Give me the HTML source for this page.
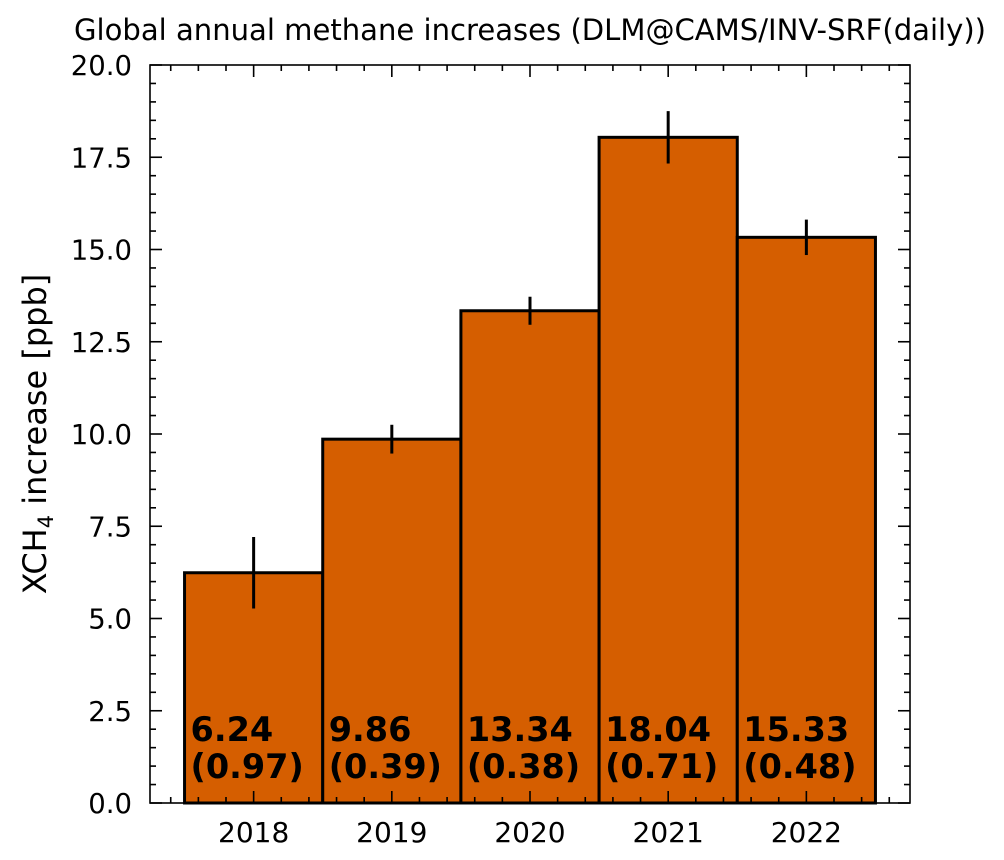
<!DOCTYPE html>
<html><head><meta charset="utf-8"><style>
body{margin:0;background:#fff;}
svg{display:block;font-family:"DejaVu Sans","Liberation Sans",sans-serif;}
</style></head><body>
<svg id="chart" width="1004" height="860">
<text x="530" y="40" text-anchor="middle" font-size="29" textLength="912" lengthAdjust="spacingAndGlyphs">Global annual methane increases (DLM@CAMS/INV-SRF(daily))</text>
<text transform="translate(46,434) rotate(-90)" text-anchor="middle" font-size="32">XCH<tspan font-size="21" dy="7">4</tspan><tspan dy="-7"> increase [ppb]</tspan></text>
<g id="plot"></g>
</svg>
<script>
const years = [2018, 2019, 2020, 2021, 2022];
const values = [6.24, 9.86, 13.34, 18.04, 15.33];
const errors = [0.97, 0.39, 0.38, 0.71, 0.48];
const yTicks = [0, 2.5, 5, 7.5, 10, 12.5, 15, 17.5, 20];

const L=150,R=910,T=65,B=803;
const xmin=2017.25,xmax=2022.75,ymin=0,ymax=20;
const xs=v=>L+(v-xmin)/(xmax-xmin)*(R-L);
const ys=v=>B-(v-ymin)/(ymax-ymin)*(B-T);
const g=document.getElementById('plot');
const NS='http://www.w3.org/2000/svg';
function mk(t,a){const e=document.createElementNS(NS,t);for(const k in a)e.setAttribute(k,a[k]);g.appendChild(e);return e;}

years.forEach((yr,i)=>{
  const x0=xs(yr-0.5),x1=xs(yr+0.5),y=ys(values[i]);
  const r=mk('rect',{x:x0,y:y,width:x1-x0,height:B-y,fill:'#d55e00',stroke:'#000','stroke-width':3});
  
  
  const e=mk('line',{x1:xs(yr),x2:xs(yr),y1:ys(values[i]+errors[i]),y2:ys(values[i]-errors[i]),stroke:'#000','stroke-width':3});
  
  
  const t=mk('text',{x:x0+7,y:741,'font-size':33.5,'font-weight':'bold'});
  
  
  t.innerHTML='<tspan x="'+(x0+6)+'">'+values[i].toFixed(2)+'</tspan><tspan x="'+(x0+6)+'" dy="37">('+errors[i].toFixed(2)+')</tspan>';
});

const frame=mk('rect',{x:L,y:T,width:R-L,height:B-T,fill:'none',stroke:'#000','stroke-width':1.6});



for(let v=0;v<=20.001;v+=0.5){
  const major=Math.abs(v/2.5-Math.round(v/2.5))<1e-6;const len=major?12:6;const y=ys(v);
  mk('line',{x1:L,x2:L+len,y1:y,y2:y,stroke:'#000','stroke-width':1.6});
  mk('line',{x1:R,x2:R-len,y1:y,y2:y,stroke:'#000','stroke-width':1.6});
}
yTicks.forEach(v=>{
  const t=mk('text',{x:L-18,y:ys(v)+10,'text-anchor':'end','font-size':27.5});
  
  
  t.textContent=v.toFixed(1);
});
for(let k=0;k*0.2<=xmax-2017.2+1e-6;k++){
  const v=2017.2+k*0.2; if(v<xmin-1e-6)continue;
  const major=Math.abs(v-Math.round(v))<1e-6;const len=major?12:6;const x=xs(v);
  mk('line',{x1:x,x2:x,y1:B,y2:B-len,stroke:'#000','stroke-width':1.6});
  mk('line',{x1:x,x2:x,y1:T,y2:T+len,stroke:'#000','stroke-width':1.6});
}
years.forEach(yr=>{
  const t=mk('text',{x:xs(yr),y:842,'text-anchor':'middle','font-size':28});
  
  
  t.textContent=yr;
});
</script>
</body></html>
